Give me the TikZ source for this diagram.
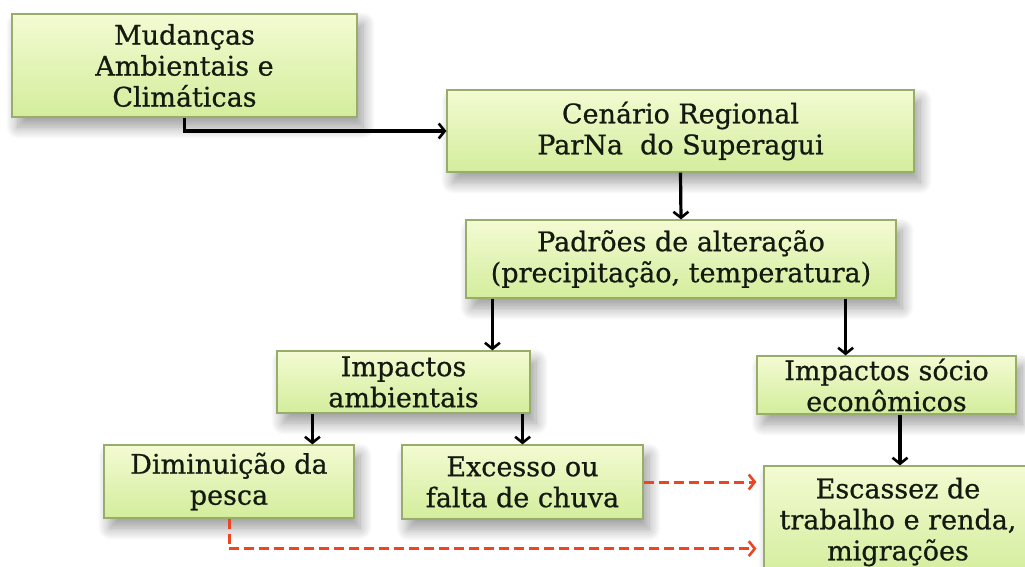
\documentclass[tikz,border=0pt]{standalone}
\usepackage{fontspec}
\setmainfont{DejaVu Serif}
\newfontfamily\boxfont{DejaVu Serif}[FakeBold=0.7]
\usetikzlibrary{arrows.meta,shadows.blur}
\definecolor{boxtop}{HTML}{F3FBD2}
\definecolor{boxbot}{HTML}{D3ED9C}
\definecolor{boxline}{HTML}{98AC6C}
\definecolor{redarrow}{HTML}{EE4422}
\definecolor{txt}{HTML}{151A10}
\begin{document}
\begin{tikzpicture}[x=1pt,y=-1pt,
  box/.style={draw=boxline, line width=1.2pt, top color=boxtop, bottom color=boxbot,
    align=center, text=txt, font=\boxfont\fontsize{27}{31}\selectfont, inner sep=0pt,
    blur shadow={shadow xshift=6pt, shadow yshift=-10pt, shadow blur radius=12pt, shadow blur steps=12, shadow opacity=40}},
  conn/.style={line width=3.2pt, -{Straight Barb[length=6pt,width=15pt,line width=2.6pt]}},
  redconn/.style={redarrow, line width=3pt, dash pattern=on 10pt off 5pt,
    -{Straight Barb[length=6pt,width=15pt,line width=2.6pt]}, shorten >=7pt}
]
\useasboundingbox (0,0) rectangle (1025,566);
\clip (0,0) rectangle (1025,566);
\node[box, minimum width=345pt, minimum height=103pt] (m1) at (184.5,65.5) {Mudanças\\Ambientais e\\Climáticas};
\node[box, minimum width=467pt, minimum height=82pt] (m2) at (680.5,131) {Cenário Regional\\ParNa\ \ do Superagui};
\node[box, minimum width=430pt, minimum height=78pt] (m3) at (681,259) {Padrões de alteração\\(precipitação, temperatura)};
\node[box, minimum width=253pt, minimum height=62pt] (m4) at (403.5,382) {Impactos\\ambientais};
\node[box, minimum width=259pt, minimum height=58pt] (m5) at (886.5,385) {Impactos sócio\\econômicos};
\node[box, minimum width=250pt, minimum height=73pt] (m6) at (229,481.5) {Diminuição da\\pesca};
\node[box, minimum width=241pt, minimum height=74pt] (m7) at (522.5,482) {Excesso ou\\falta de chuva};
\node[box, minimum width=268pt, minimum height=112pt] (m8) at (898,522) {Escassez de\\trabalho e renda,\\migrações};

\draw[conn] (m1.south) |- (m2.west);
\draw[conn] (m2.south) -- (m3.north);
\coordinate (a1) at ([xshift=27pt]m3.south west);
\draw[conn] (a1) -- (a1 |- m4.north);
\coordinate (a2) at ([xshift=-51pt]m3.south east);
\draw[conn] (a2) -- (a2 |- m5.north);
\coordinate (a3) at ([xshift=36pt]m4.south west);
\draw[conn] (a3) -- (a3 |- m6.north);
\coordinate (a4) at ([xshift=-8pt]m4.south east);
\draw[conn] (a4) -- (a4 |- m7.north);
\coordinate (a5) at ([xshift=13.5pt]m5.south);
\draw[conn] (a5) -- (a5 |- m8.north);
\draw[redconn] (m7.east) -- (m7.east -| m8.west);
\coordinate (d1) at ([yshift=-30pt]m6.south);
\draw[redconn] (m6.south) -- (d1) -- (d1 -| m8.west);
\end{tikzpicture}
\end{document}
